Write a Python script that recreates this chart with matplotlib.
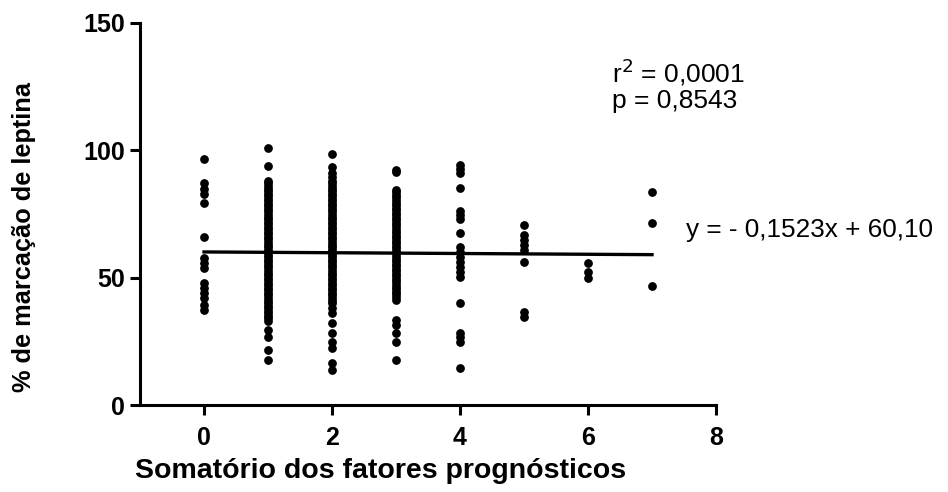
import matplotlib
matplotlib.use('Agg')
import matplotlib.pyplot as plt
import numpy as np

# values (x = prognostic score, y = % leptin staining)
col0 = [96.5, 87, 85, 83, 79.4, 66, 57.6, 55.6, 53.7, 47.8, 45.8, 43.8, 41.9, 39.3, 37.3]
col1 = [100.8, 93.8, 88, 87, 86, 85, 84, 83, 82, 81, 80, 79, 78, 77, 76, 75, 74, 73,
        72, 71, 70, 69, 68, 67, 66, 65, 64, 63, 62, 61, 60, 59, 58, 57, 56, 55, 54,
        53, 52, 51, 50, 49, 48, 47, 46, 45, 44, 43, 42, 41, 40, 39, 38, 37, 36, 35,
        34, 33, 29.4, 26.8, 21.6, 17.7]
col2 = [98.5, 93.3, 91, 89.5, 88, 87, 86, 85, 84, 83, 82, 81, 80, 79, 78, 77, 76, 75,
        74, 73, 72, 71, 70, 69, 68, 67, 66, 65, 64, 63, 62, 61, 60, 59, 58, 57, 56,
        55, 54, 53, 52, 51, 50, 49, 48, 47, 46, 45, 44, 43, 42, 41, 40, 38, 36, 32.3,
        28.4, 24.9, 22.4, 16.5, 13.7]
col3 = [92.3, 91.5, 84.4, 83.5, 82.5, 81.5, 80.5, 79.5, 78.5, 77.5, 76.5, 75.5, 74.5,
        73.5, 72.5, 71.5, 70.5, 69.5, 68.5, 67.5, 66.5, 65.5, 64.5, 63.5, 62.5, 61.5,
        60.5, 59.5, 58.5, 57.5, 56.5, 55.5, 54.5, 53.5, 52.5, 51.5, 50.5, 49.5, 48.5,
        47.5, 46.5, 45.5, 44.5, 43.5, 42.5, 41.2, 33.4, 31.4, 28.3, 24.9, 17.7]
col4 = [94.2, 92.7, 91.1, 85.2, 76.3, 74.6, 72.9, 67.4, 62.2, 60.2, 58.2, 56.3, 54.3,
        52.4, 50.4, 40.2, 28.4, 26.8, 24.9, 14.7]
col5 = [70.7, 66.7, 64.8, 62.8, 60.9, 56.3, 36.6, 34.7]
col6 = [55.6, 52.3, 49.7]
col7 = [83.8, 71.6, 46.7]
columns = [col0, col1, col2, col3, col4, col5, col6, col7]

slope = -0.1523
intercept = 60.10
fit_x = [0, 7]

x_ticks = [0, 2, 4, 6, 8]
y_ticks = [0, 50, 100, 150]

plt.rcParams['font.family'] = ['Liberation Sans', 'DejaVu Sans']

fig = plt.figure(figsize=(9.48, 4.92), dpi=100)
ax = fig.add_axes([0.1477, 0.1768, 0.6076, 0.7765])

for score, vals in enumerate(columns):
    ax.plot([score] * len(vals), vals, 'o', color='black', markersize=6.3, markeredgewidth=0)

fx = np.array(fit_x)
ax.plot(fx, slope * fx + intercept, color='black', linewidth=2.4)

ax.set_xlim(-1, 8)
ax.set_ylim(0, 150)
ax.set_xticks(x_ticks)
ax.set_yticks(y_ticks)
ax.spines['top'].set_visible(False)
ax.spines['right'].set_visible(False)
for s in ['left', 'bottom']:
    ax.spines[s].set_linewidth(2.2)
ax.tick_params(width=2.2, length=7, labelsize=18, pad=4)
ax.tick_params(axis='x', pad=8)
for lab in ax.get_xticklabels() + ax.get_yticklabels():
    lab.set_fontweight('bold')

fig.text(0.401, 0.042, 'Somatório dos fatores prognósticos', ha='center', va='center',
         fontsize=20.5, fontweight='bold')
fig.text(0.025, 0.518, '% de marcação de leptina', ha='center', va='center',
         rotation=90, fontsize=18.3, fontweight='bold')

fig.text(612 / 948, 1 - 72 / 492, r'r$^2$ = 0,0001', ha='left', va='center', fontsize=19)
fig.text(612 / 948, 1 - 101 / 492, 'p = 0,8543', ha='left', va='center', fontsize=19)
fig.text(686 / 948, 1 - 230 / 492, 'y = - 0,1523x + 60,10', ha='left', va='center', fontsize=18.8)

fig.savefig('out.png', dpi=100)
